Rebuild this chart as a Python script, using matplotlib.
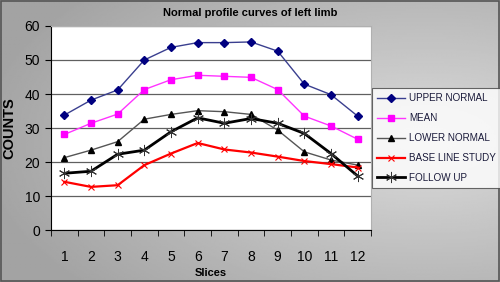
import matplotlib.pyplot as plt
import numpy as np

plt.rcParams['font.family'] = ['Liberation Sans', 'DejaVu Sans']

slices = ['1', '2', '3', '4', '5', '6', '7', '8', '9', '10', '11', '12']
upper_normal = [33.8, 38.2, 41.2, 50.0, 53.7, 55.1, 55.1, 55.3, 52.6, 42.9, 39.8, 33.5]
mean = [28.1, 31.4, 34.1, 41.3, 44.2, 45.5, 45.2, 44.9, 41.3, 33.5, 30.6, 26.7]
lower_normal = [21.3, 23.5, 26.0, 32.6, 34.0, 35.1, 34.8, 34.0, 29.4, 23.0, 20.6, 19.1]
base_line = [14.2, 12.7, 13.2, 19.1, 22.5, 25.6, 23.7, 22.8, 21.6, 20.3, 19.4, 18.4]
follow_up = [16.7, 17.3, 22.3, 23.5, 28.9, 33.0, 31.4, 32.8, 31.4, 28.4, 22.5, 15.9]

fig = plt.figure(figsize=(5, 2.82), dpi=100)

# gray gradient background
bg = fig.add_axes([0, 0, 1, 1], zorder=-10)
yy, xx = np.mgrid[0:1:200j, 0:1:300j]
d = np.sqrt(((xx - 0.85) / 0.9) ** 2 + ((yy - 0.5) / 0.8) ** 2)
shade = 0.86 - 0.22 * np.clip(d, 0, 1)
bg.imshow(shade, cmap='gray', vmin=0, vmax=1, aspect='auto', extent=[0, 1, 0, 1])
bg.set_xlim(0, 1)
bg.set_ylim(0, 1)
bg.axis('off')
fig.patches.append(plt.Rectangle((0.001, 0.002), 0.997, 0.995, transform=fig.transFigure,
                                 fill=False, edgecolor='#555555', linewidth=1.2))

ax = fig.add_axes([0.102, 0.184, 0.640, 0.724])
ax.set_facecolor('white')
x = np.arange(len(slices))

ax.plot(x, upper_normal, color='#3a3f8f', marker='D', markersize=4.5,
        markerfacecolor='#000080', markeredgecolor='#000080', linewidth=1, label='UPPER NORMAL')
ax.plot(x, mean, color='#ff33ff', marker='s', markersize=5,
        markerfacecolor='#ff00ff', markeredgecolor='#ff00ff', linewidth=1, label='MEAN')
ax.plot(x, lower_normal, color='#555555', marker='^', markersize=5,
        markerfacecolor='black', markeredgecolor='black', linewidth=1, label='LOWER NORMAL')
ax.plot(x, base_line, color='red', marker='x', markersize=5, linewidth=1.6,
        markeredgewidth=0.8, label='BASE LINE STUDY')
ax.plot(x, follow_up, color='black', marker=(6, 2, 0), markersize=8, linewidth=2,
        markeredgewidth=0.7, markeredgecolor='#333333', label='FOLLOW UP')

ax.set_xlim(-0.5, 11.5)
ax.set_ylim(0, 60)
ax.set_yticks(range(0, 61, 10))
ax.set_xticks(x)
ax.set_xticklabels(slices)
ax.set_xticks(np.arange(-0.5, 12, 1), minor=True)
ax.tick_params(axis='x', which='major', length=0, pad=14, labelsize=10)
ax.tick_params(axis='x', which='minor', length=4, direction='out')
ax.tick_params(axis='y', length=4, direction='out', labelsize=10, pad=4)
ax.grid(axis='y', color='#606060', linewidth=0.9)
ax.set_axisbelow(True)
for s in ['top', 'right']:
    ax.spines[s].set_color('#b0b0b0')
for s in ['left', 'bottom']:
    ax.spines[s].set_color('black')

ax.set_ylabel('COUNTS', fontsize=10.5, fontweight='bold', labelpad=6)
ax.set_xlabel('Slices', fontsize=8, fontweight='bold', labelpad=3)
fig.text(0.5, 0.953, 'Normal profile curves of left limb', ha='center', va='center',
         fontsize=8, fontweight='bold')

leg = fig.legend(loc='upper left', bbox_to_anchor=(0.744, 0.688), frameon=True,
                 fancybox=False, edgecolor='#444444', handlelength=2.8,
                 labelspacing=1.0, borderpad=0.55, handletextpad=0.4, borderaxespad=0,
                 prop={'size': 7.1})
leg.get_frame().set_linewidth(0.8)
for t in leg.get_texts():
    t.set_color('#1a1a3a')

fig.savefig('out.png', dpi=100)
